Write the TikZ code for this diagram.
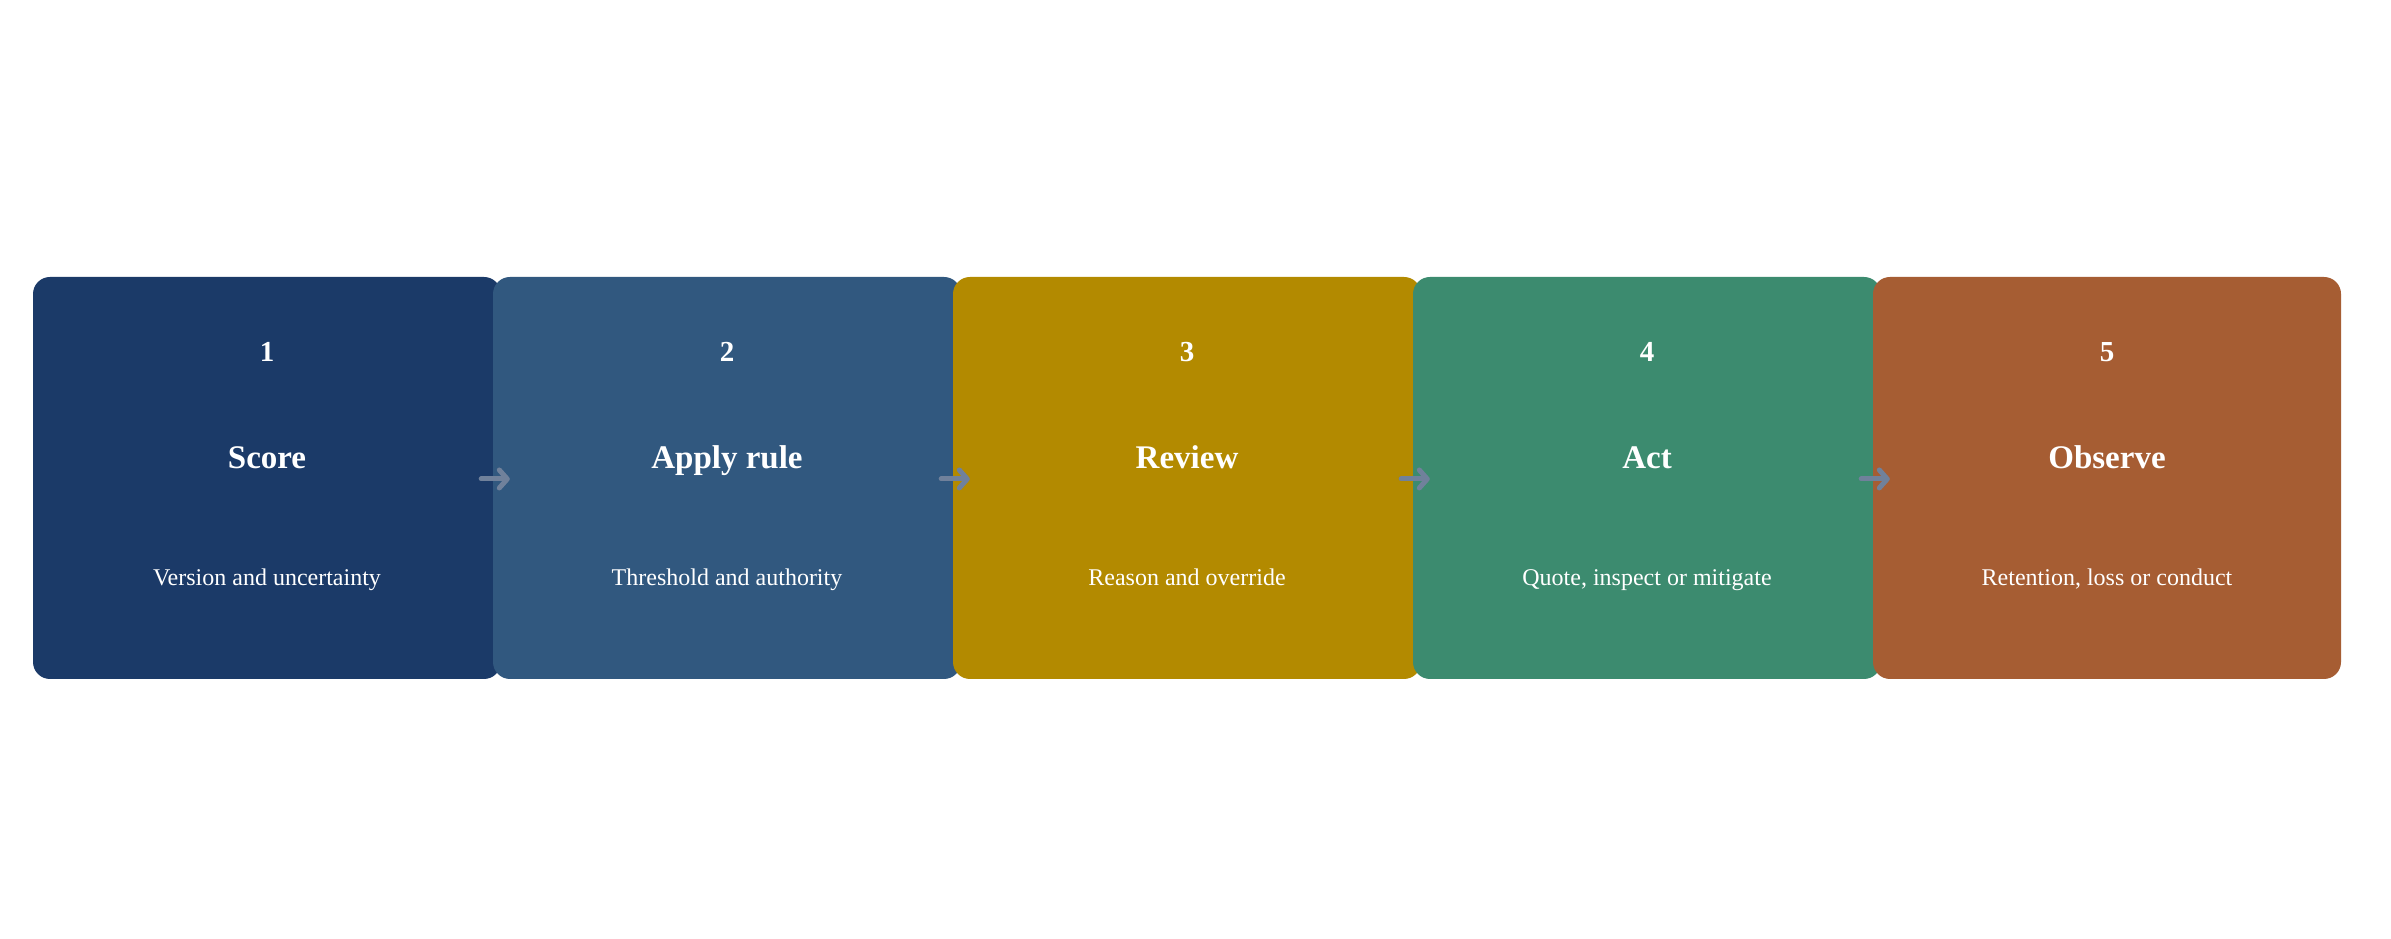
\documentclass[tikz,border=0pt]{standalone}
\usepackage{fontspec}
\setmainfont{Liberation Serif}
\usetikzlibrary{arrows.meta}
\definecolor{cA}{HTML}{1B3A68}
\definecolor{cB}{HTML}{31587F}
\definecolor{cC}{HTML}{B38A00}
\definecolor{cD}{HTML}{3C8B6F}
\definecolor{cE}{HTML}{A65D33}
\definecolor{arr}{HTML}{70819B}
\tikzset{
  stagebox/.style={rectangle, rounded corners=17pt, minimum width=468pt, minimum height=402pt, inner sep=0pt, draw=none},
  numtxt/.style={anchor=base, text=white, font=\fontsize{29}{34}\selectfont\bfseries, inner sep=0pt},
  titletxt/.style={anchor=base, text=white, font=\fontsize{33}{40}\selectfont\bfseries, inner sep=0pt},
  subtxt/.style={anchor=base, text=white, font=\fontsize{24}{29}\selectfont, inner sep=0pt},
  flowarrow/.style={draw=arr, line width=5pt, line cap=round, -{Straight Barb[round, length=8pt, width=18pt, line width=5pt]}}
}
\begin{document}
\begin{tikzpicture}[x=1pt, y=1pt]
\useasboundingbox[fill=white] (0,0) rectangle (2391,939);
\node[stagebox, fill=cA] (b1) at (267,461) {};
\node[stagebox, fill=cB] (b2) at (727,461) {};
\node[stagebox, fill=cC] (b3) at (1187,461) {};
\node[stagebox, fill=cD] (b4) at (1647,461) {};
\node[stagebox, fill=cE] (b5) at (2107,461) {};
% numbers
\node[numtxt] (n1) at (267,577) {1};
\node[numtxt] (n2) at (727,577) {2};
\node[numtxt] (n3) at (1187,577) {3};
\node[numtxt] (n4) at (1647,577) {4};
\node[numtxt] (n5) at (2107,577) {5};
% titles
\node[titletxt] (t1) at (267,470) {Score};
\node[titletxt] (t2) at (727,470) {Apply rule};
\node[titletxt] (t3) at (1187,470) {Review};
\node[titletxt] (t4) at (1647,470) {Act};
\node[titletxt] (t5) at (2107,470) {Observe};
% subtitles
\node[subtxt] (s1) at (267,353) {Version and uncertainty};
\node[subtxt] (s2) at (727,353) {Threshold and authority};
\node[subtxt] (s3) at (1187,353) {Reason and override};
\node[subtxt] (s4) at (1647,353) {Quote, inspect or mitigate};
\node[subtxt] (s5) at (2107,353) {Retention, loss or conduct};
% arrows
\draw[flowarrow] ([xshift=-20pt,yshift=-1pt]b1.east) -- ([xshift=17pt,yshift=-1pt]b2.west);
\draw[flowarrow] ([xshift=-20pt,yshift=-1pt]b2.east) -- ([xshift=17pt,yshift=-1pt]b3.west);
\draw[flowarrow] ([xshift=-20pt,yshift=-1pt]b3.east) -- ([xshift=17pt,yshift=-1pt]b4.west);
\draw[flowarrow] ([xshift=-20pt,yshift=-1pt]b4.east) -- ([xshift=17pt,yshift=-1pt]b5.west);
\end{tikzpicture}
\end{document}
